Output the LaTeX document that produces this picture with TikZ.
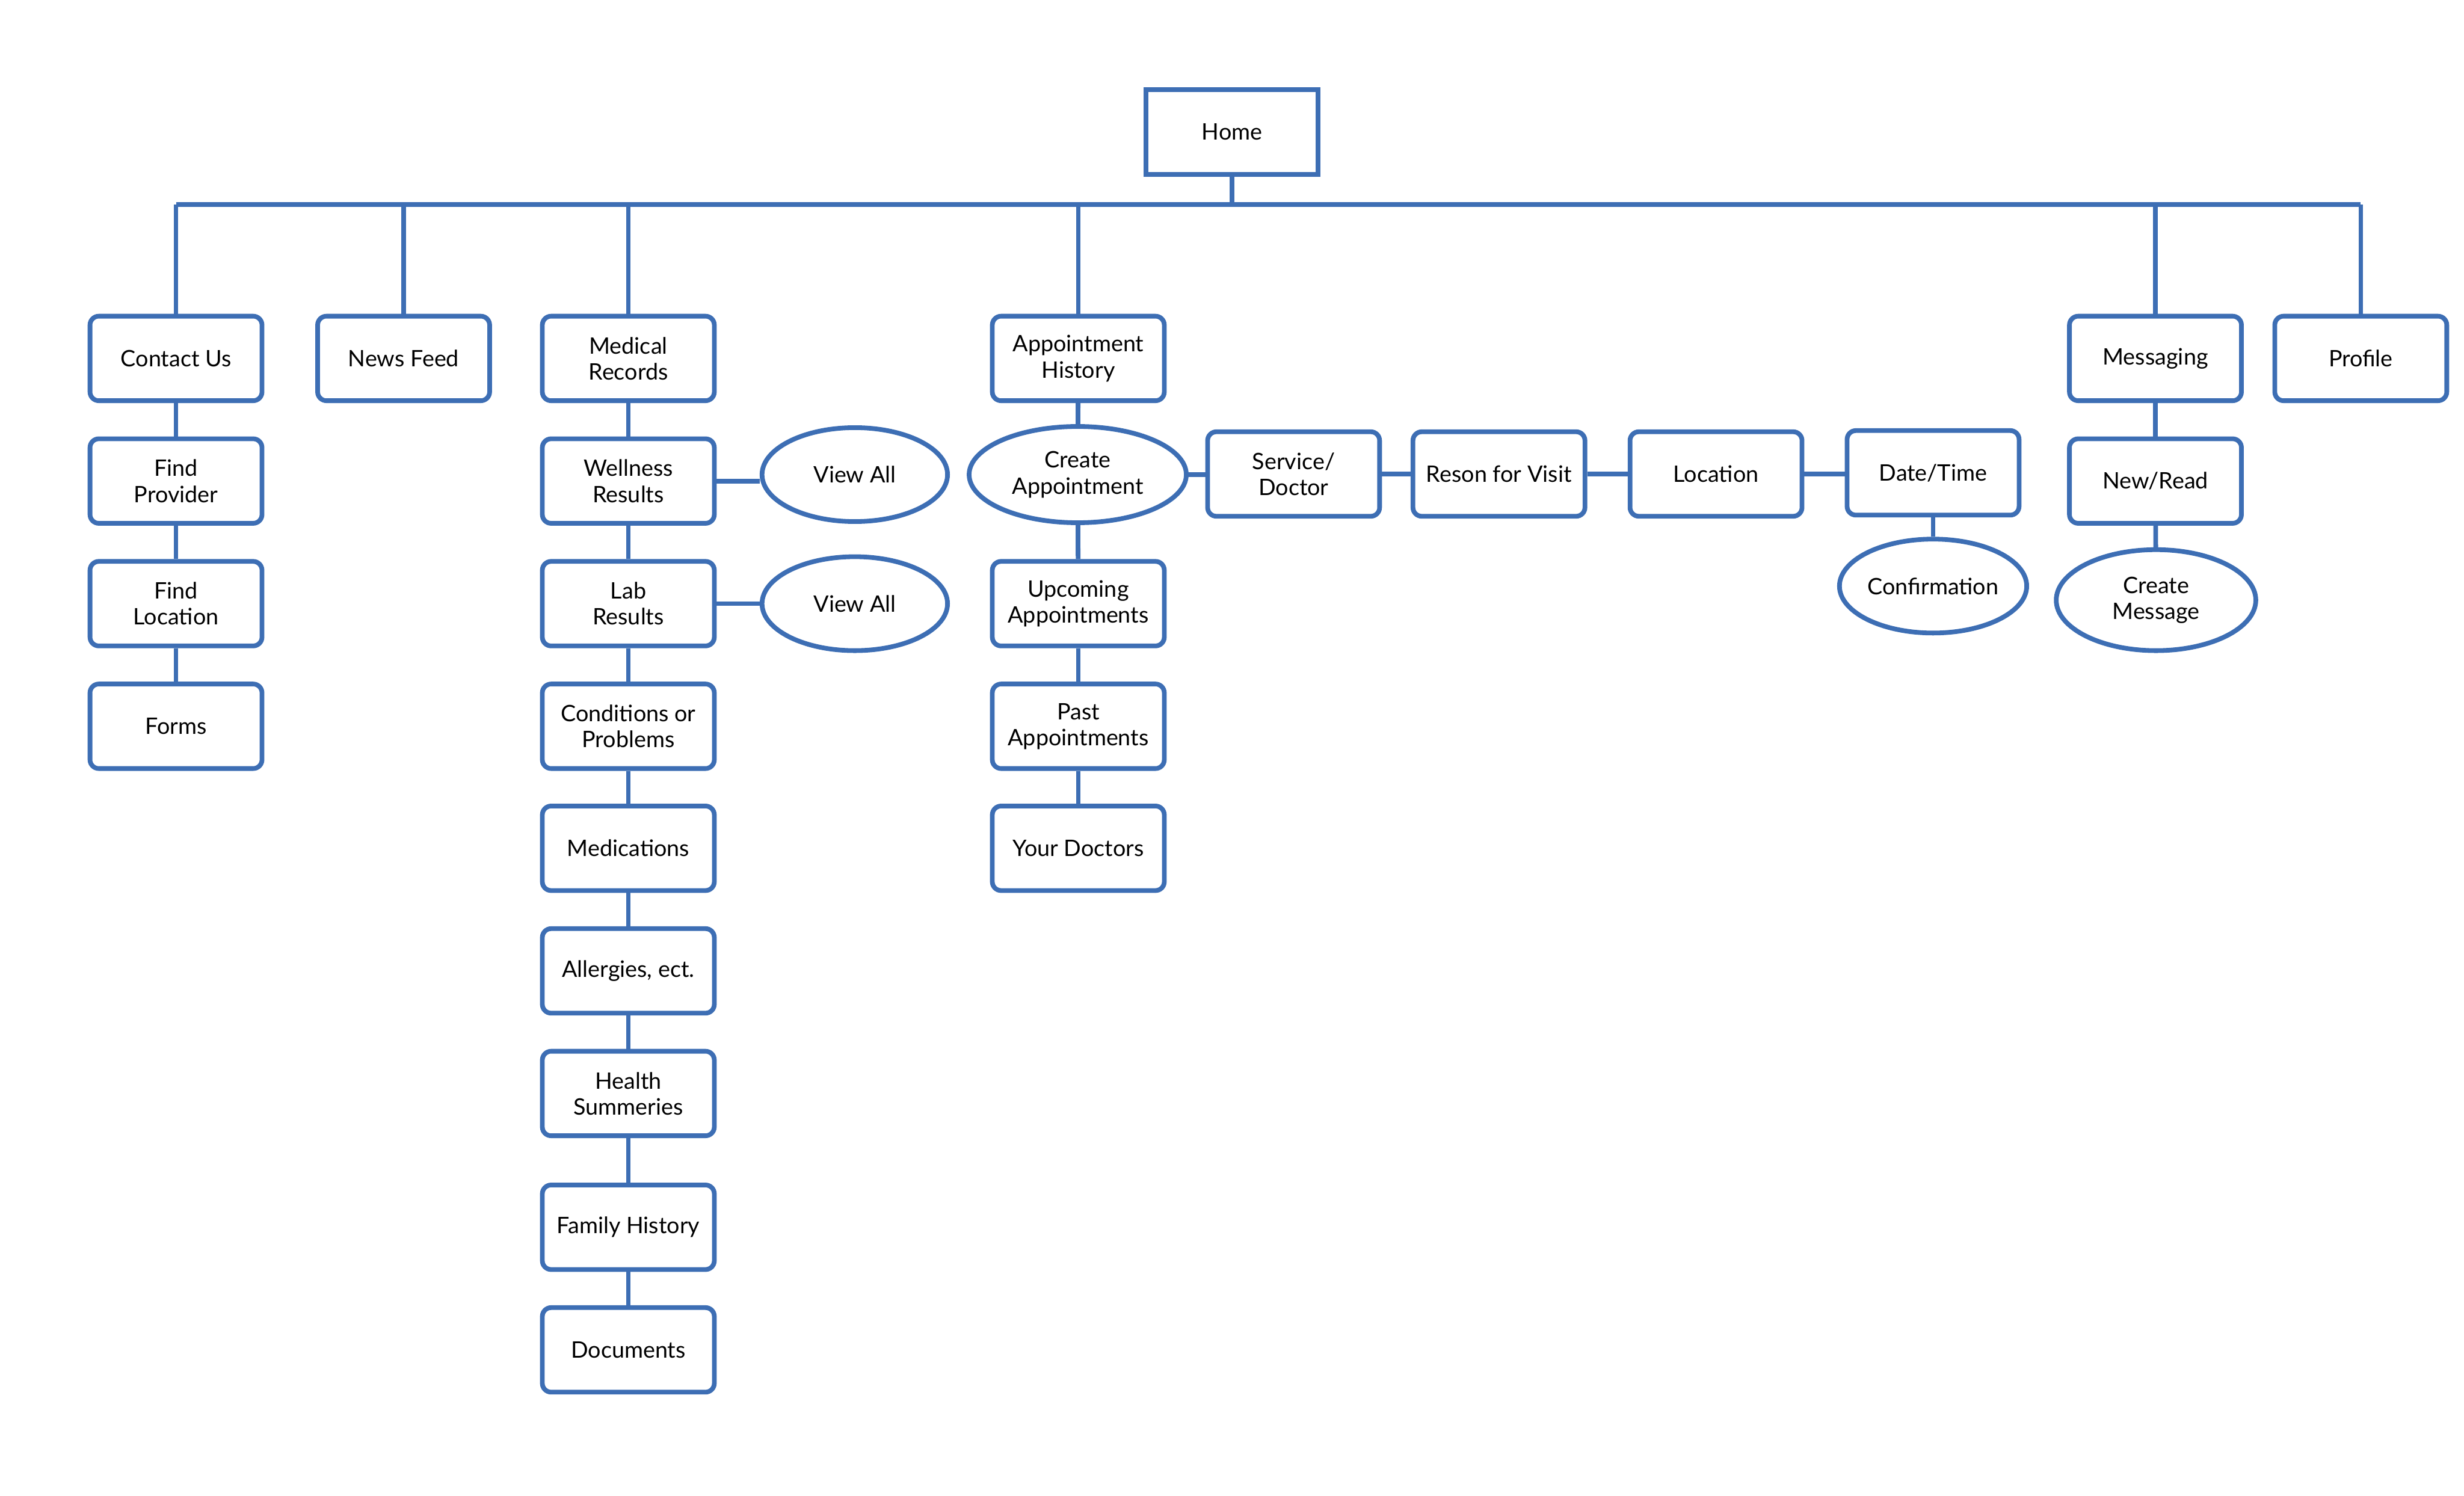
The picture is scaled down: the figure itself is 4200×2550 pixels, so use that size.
\documentclass[tikz,border=0pt]{standalone}
\usepackage{fontspec}
\setmainfont{Lato}
\usetikzlibrary{shapes.geometric}
\definecolor{blu}{RGB}{61,110,180}
\begin{document}
\begin{tikzpicture}[x=0.01cm,y=-0.01cm,
 every node/.style={font=\fontsize{11}{12.6}\selectfont, text=black, align=center},
 sqbox/.style={draw=blu, line width=0.08cm, minimum width=2.93cm, minimum height=1.44cm, inner sep=0pt},
 rbox/.style={sqbox, rounded corners=0.15cm},
 oval/.style={draw=blu, line width=0.08cm, ellipse, inner sep=0pt},
 link/.style={draw=blu, line width=0.08cm}]
\useasboundingbox (0,0) rectangle (4200,2550);

% top
\node[sqbox] (home) at (2100,225) {Home};
\coordinate (busL) at (300,349);
\coordinate (busR) at (4024,349);

% row 1
\node[rbox] (contact) at (300,611) {Contact Us};
\node[rbox] (news) at (688,611) {News Feed};
\node[rbox] (med) at (1071,611) {Medical\\Records};
\node[rbox] (apph) at (1838,611) {Appointment\\History};
\node[rbox] (msg) at (3674,611) {Messaging};
\node[rbox] (prof) at (4024,611) {Profile};

% contact column
\node[rbox] (fprov) at (300,820) {Find\\Provider};
\node[rbox] (floc) at (300,1029) {Find\\Location};
\node[rbox] (forms) at (300,1238) {Forms};

% medical column
\node[rbox] (well) at (1071,820) {Wellness\\Results};
\node[rbox] (lab) at (1071,1029) {Lab\\Results};
\node[rbox] (cond) at (1071,1238) {Conditions or\\Problems};
\node[rbox] (meds) at (1071,1446) {Medications};
\node[rbox] (allg) at (1071,1655) {Allergies, ect.};
\node[rbox] (hsum) at (1071,1864) {Health\\Summeries};
\node[rbox] (fam) at (1071,2092) {Family History};
\node[rbox] (docs) at (1071,2301) {Documents};
\node[oval, minimum width=3.16cm, minimum height=1.60cm] (va1) at (1457,809) {View All};
\node[oval, minimum width=3.16cm, minimum height=1.60cm] (va2) at (1457,1029) {View All};

% appointment column
\node[oval, minimum width=3.70cm, minimum height=1.64cm] (capp) at (1837,809) {Create\\Appointment};
\node[rbox] (upc) at (1838,1029) {Upcoming\\Appointments};
\node[rbox] (past) at (1838,1238) {Past\\Appointments};
\node[rbox] (ydoc) at (1838,1446) {Your Doctors};

% appointment chain
\node[rbox] (serv) at (2205,808) {Service/\\Doctor};
\node[rbox] (reson) at (2555,808) {Reson for Visit};
\node[rbox] (loc) at (2925,808) {Location};
\node[rbox] (dt) at (3295,806) {Date/Time};
\node[oval, minimum width=3.19cm, minimum height=1.60cm] (conf) at (3295,999) {Confirmation};

% messaging column
\node[rbox] (newr) at (3674,820) {New/Read};
\node[oval, minimum width=3.40cm, minimum height=1.72cm] (cmsg) at (3675,1023) {Create\\Message};

% connectors
\draw[link] (home.south) -- (home.south |- busL);
\draw[link] (busL) -- (busR);
\foreach \n in {contact,news,med,apph,msg,prof}
  \draw[link] (\n.north) -- (\n.north |- busL);

\draw[link] (contact) -- (fprov);
\draw[link] (fprov) -- (floc);
\draw[link] (floc) -- (forms);

\draw[link] (med) -- (well);
\draw[link] (well) -- (lab);
\draw[link] (lab) -- (cond);
\draw[link] (cond) -- (meds);
\draw[link] (meds) -- (allg);
\draw[link] (allg) -- (hsum);
\draw[link] (hsum) -- (fam);
\draw[link] (fam) -- (docs);
\draw[link] (well.east) -- (well.east -| va1.west);
\draw[link] (lab) -- (va2);

\draw[link] (apph) -- (capp);
\draw[link] (capp) -- (upc);
\draw[link] (upc) -- (past);
\draw[link] (past) -- (ydoc);

\draw[link] (capp.east) -- (capp.east -| serv.west);
\draw[link] (serv) -- (reson);
\draw[link] (reson) -- (loc);
\draw[link] (loc.east) -- (loc.east -| dt.west);
\draw[link] (dt) -- (conf);

\draw[link] (msg) -- (newr);
\draw[link] (newr) -- (cmsg);
\end{tikzpicture}
\end{document}
